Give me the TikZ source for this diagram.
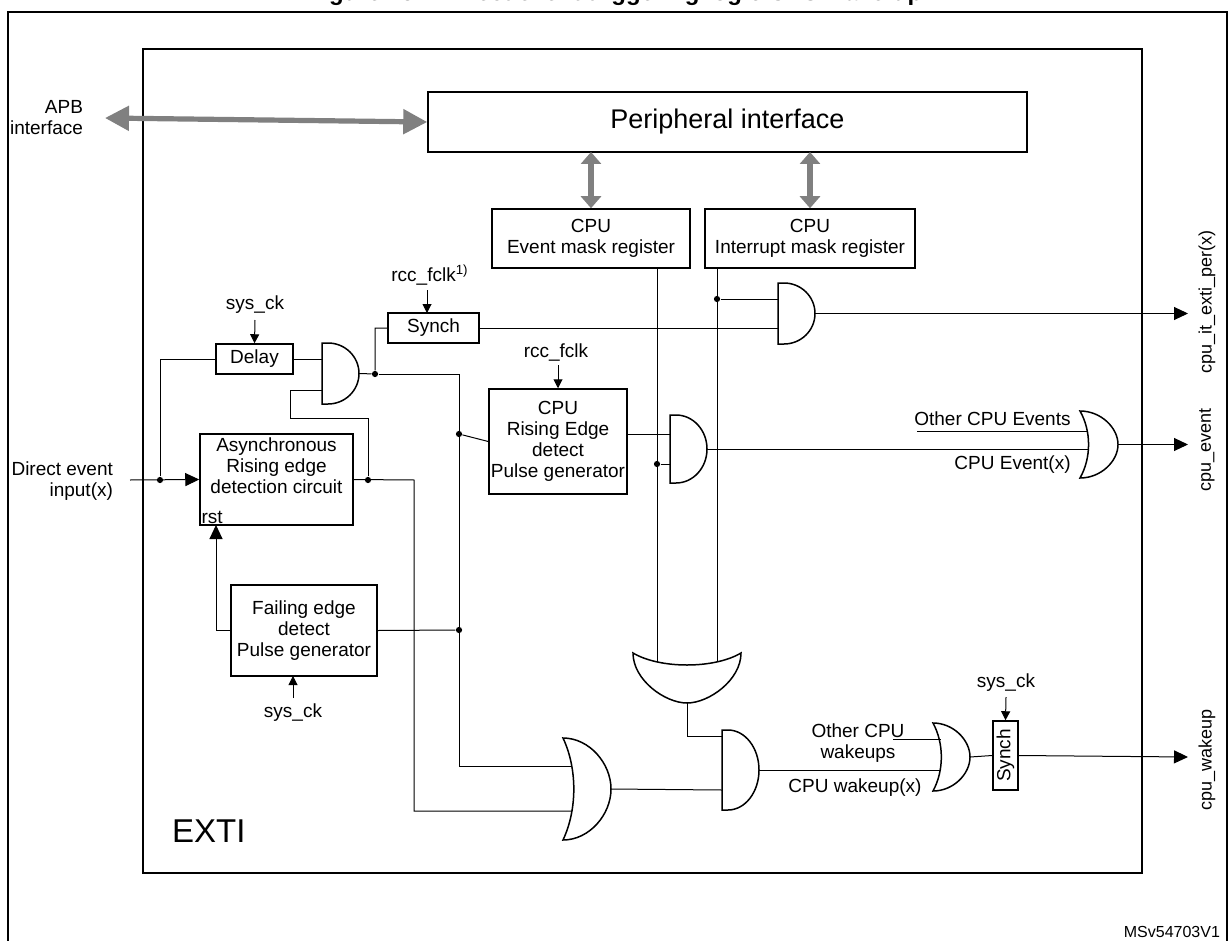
\documentclass[tikz,border=0pt]{standalone}
\usepackage{fontspec}
\setmainfont{Liberation Sans}
\usepackage{tikz}
\usetikzlibrary{arrows.meta}

% gates: name, left, top, height (y grows downwards)
\newcommand{\andgate}[4]{%
	\draw[gate] (#2,#3) -- ++(6,0) arc[start angle=-90,end angle=90,x radius=31,y radius=#4/2] -- (#2,#3+#4) -- cycle;
	\coordinate (#1) at (#2+37,#3+#4/2);}
% or gate: name, left, top, width, height
\newcommand{\orgate}[5]{%
	\draw[gate] (#2,#3) .. controls (#2+0.55*#4,#3) and (#2+#4,#3+0.25*#5) .. (#2+#4,#3+0.5*#5)
		.. controls (#2+#4,#3+0.75*#5) and (#2+0.55*#4,#3+#5) .. (#2,#3+#5)
		.. controls (#2+0.3*#4,#3+0.7*#5) and (#2+0.3*#4,#3+0.3*#5) .. (#2,#3) -- cycle;
	\coordinate (#1) at (#2+#4,#3+0.5*#5);}

\begin{document}
\begin{tikzpicture}[x=0.5pt,y=-0.5pt,
	every node/.style={font=\fontsize{9.5}{10.5}\selectfont},
	box/.style={draw,line width=0.75pt,align=center,inner sep=0pt},
	gate/.style={line width=0.75pt},
	wire/.style={line width=0.5pt},
	sig/.style={wire,-{Triangle[length=7pt,width=6.5pt]}},
	clk/.style={wire,-{Triangle[length=4.5pt,width=4.5pt]}},
	bus/.style={line width=2.6pt,draw={rgb,255:red,128;green,128;blue,128},{Triangle[length=12pt,width=12pt]}-{Triangle[length=12pt,width=12pt]}},
	vbus/.style={bus,{Triangle[length=6pt,width=10pt]}-{Triangle[length=6pt,width=10pt]}},
	outlabel/.style={rotate=90,font=\fontsize{9}{10}\selectfont},
	dot/.style={circle,fill,inner sep=1.1pt}]
	\useasboundingbox (0,0) rectangle (1230,941);
	\node[anchor=south,font=\bfseries\fontsize{12}{14}\selectfont] (title) at (615,13) {Figure 157. Direct event triggering logic CPU wake-up};
	\draw[line width=0.75pt] (8,12) rectangle (1227,960);
	\draw[line width=0.75pt] (143,49) rectangle (1142,873);
	\node[anchor=west,font=\fontsize{16.5}{19}\selectfont] (exti) at (165,831) {EXTI};
	\node[anchor=east,font=\fontsize{8}{9}\selectfont] (ref) at (1227,932) {MSv54703V1};

	% boxes
	\node[box,minimum width=299.5pt,minimum height=30pt,font=\fontsize{13.5}{15}\selectfont] (periph) at (727.5,122) {Peripheral interface};
	\node[box,minimum width=99pt,minimum height=29.5pt] (evmask) at (591,238.5) {CPU\\Event mask register};
	\node[box,minimum width=105pt,minimum height=29.5pt] (itmask) at (810,238.5) {CPU\\Interrupt mask register};
	\node[box,minimum width=45.5pt,minimum height=15pt] (synchA) at (433.5,328) {Synch};
	\node[box,minimum width=38.5pt,minimum height=15pt] (delay) at (254.5,359) {Delay};
	\node[box,minimum width=69pt,minimum height=52.5pt] (rise) at (558,441.5) {CPU\\Rising Edge\\detect\\Pulse generator};
	\node[box,minimum width=76.5pt,minimum height=45.5pt] (async) at (276.5,479.5) {Asynchronous\\Rising edge\\detection circuit\\[3pt]};
	\node[anchor=south west,inner sep=1pt] (rst) at (async.south west) {rst};
	\node[box,minimum width=73pt,minimum height=45.5pt] (fall) at (304,630.5) {Failing edge\\detect\\Pulse generator};
	\node[box,minimum width=34.5pt,minimum height=12.5pt,rotate=90] (synchB) at (1005.5,755.5) {Synch};

	% gates
	\andgate{andA}{322}{343}{61}
	\andgate{andB}{778}{283}{61}
	\andgate{andC}{670}{415}{68}
	\andgate{andD}{722}{730}{80}
	\orgate{orA}{1080}{411}{38}{67}
	\orgate{orB}{933}{723}{37}{68}
	\orgate{orC}{563}{738}{48}{102}
	\draw[gate] (633,653) .. controls (660,669) and (714,669) .. (741,653)
		.. controls (741,680) and (709,703) .. (687,703)
		.. controls (665,703) and (633,680) .. (633,653) -- cycle;
	\coordinate (orD) at (687,703);

	% interface
	\node[align=right,anchor=east] (apb) at (90,118) {APB\\interface};
	\draw[bus] (105,118) -- (periph.west);
	\draw[vbus] (591,152) -- (evmask.north);
	\draw[vbus] (810,152) -- (itmask.north);

	% clocks
	\node (ckA) at (255,305) {sys\_ck};
	\draw[clk] (255,320) -- (delay.north);
	\node (ckB) at (430,275) {rcc\_fclk\textsuperscript{1)}};
	\draw[clk] (427,290) -- (427,313);
	\node (ckC) at (556,353) {rcc\_fclk};
	\draw[clk] (558,365) -- (rise.north);
	\node (ckD) at (293,713) {sys\_ck};
	\draw[clk] (293,698) -- (293,676);
	\node (ckE) at (1006,683) {sys\_ck};
	\draw[clk] (1006,697) -- (synchB.east);

	% input side
	\node[align=right,anchor=east] (din) at (120,481) {Direct event\\input(x)};
	\node[dot] (j1) at (160,480) {};
	\node[dot] (j2) at (368,480) {};
	\node[dot] (j3) at (375,374) {};
	\node[dot] (j4) at (459,434) {};
	\node[dot] (j5) at (459,630) {};
	\node[dot] (j6) at (717,299) {};
	\node[dot] (j7) at (657,464) {};
	\draw[sig] (130,480) -- (async.west);
	\draw[wire] (j1) |- (delay.west);
	\draw[wire] (delay.east) -- (322,359);
	\draw[wire] (j2) -- (368,418) -- (290,418) -- (290,390) -- (322,390);
	\draw[wire] (andA) -- (j3) |- (synchA.west);
	\draw[wire] (j3) -- (459,374) -- (459,766) -- (572,766);
	\draw[wire] (j4) -- (rise.west);
	\draw[wire] (fall.east) -- (j5);
	\draw[wire] (async.east) -- (414,480) -- (414,811) -- (572,811);
	\draw[sig] (fall.west) -- (216,630.5) -- (216,525);

	% mask paths
	\draw[wire] (657,268) -- (657,662);
	\draw[wire] (717,268) -- (717,662);
	\draw[wire] (synchA.east) -- (778,328);
	\draw[wire] (j6) -- (778,299);
	\draw[wire] (rise.west -| rise.east) ++(0,-7.5) -- (670,434);
	\draw[wire] (j7) -- (670,464);
	\draw[wire] (andC) -- (1088,449);
	\draw[wire] (917,431) -- (1087,431);
	\node[anchor=south east,inner sep=1pt] (oev) at (1073,428) {Other CPU Events};
	\node[anchor=north east,inner sep=1pt] (cev) at (1073,453) {CPU Event(x)};
	\draw[wire] (orD) -- (687,736) -- (722,736);
	\draw[wire] (orC) -- (722,790);
	\draw[wire] (andD) -- (941,770);
	\draw[wire] (893,739) -- (941,739);
	\node[align=center] (owk) at (858,743) {Other CPU\\wakeups};
	\node (cwk) at (855,788) {CPU wakeup(x)};
	\draw[wire] (orB) -- (synchB.north);

	% outputs
	\draw[sig] (andB) -- (1188,313.5);
	\draw[sig] (orA) -- (1188,444.5);
	\draw[sig] (synchB.south) -- (1188,757);
	\node[outlabel] (oit) at (1207,302) {cpu\_it\_exti\_per(x)};
	\node[outlabel] (oev2) at (1207,450) {cpu\_event};
	\node[outlabel] (owk2) at (1207,760) {cpu\_wakeup};
\end{tikzpicture}
\end{document}
